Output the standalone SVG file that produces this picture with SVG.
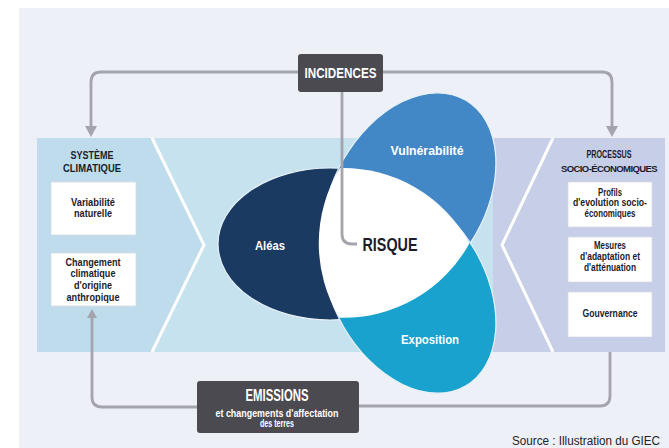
<svg xmlns="http://www.w3.org/2000/svg" width="669" height="448" viewBox="0 0 669 448">
<defs>
<style>
text{font-family:"Liberation Sans","DejaVu Sans",Arial,sans-serif;font-weight:bold;text-anchor:middle}
.dk{fill:#1c1c2a;font-size:10px}
.hd{fill:#1c1c2a;font-size:11px}
.wt{fill:#ffffff}
.ln{fill:none;stroke:#a4a4ac;stroke-width:2.8}
.box{fill:#ffffff;stroke:#d6dbe4;stroke-width:0.8}
.dbox{fill:#4a4a50}
.ar{fill:#a4a4ac}
</style>
</defs>
<rect x="0" y="0" width="669" height="448" fill="#ffffff"/>
<rect x="19" y="8" width="650" height="440" fill="#eef0f7"/>

<g id="band">
<rect x="37" y="138" width="460" height="214" fill="#c6e2ef"/>
<rect x="493" y="138" width="172" height="214" fill="#c7cee7"/>
<polygon points="37,138 152,138 204,245 152,352 37,352" fill="#bedcec"/>
<polyline points="152,138 204,245 152,352" fill="none" stroke="#ffffff" stroke-width="3"/>
<polyline points="553,138 502,245 553,352" fill="none" stroke="#ffffff" stroke-width="3"/>
</g>

<g id="connectors">
<path class="ln" d="M91,127 V82 Q91,72 101,72 H298"/>
<path class="ln" d="M383,72 H602 Q612,72 612,82 V127"/>
<polygon class="ar" points="85,126 97,126 91,137"/>
<polygon class="ar" points="606,126 618,126 612,137"/>
<path class="ln" d="M92,318 V397 Q92,407 102,407 H197"/>
<polygon class="ar" points="87,318 97,318 92,309"/>
<path class="ln" d="M610,352 V396 Q610,406 600,406 H359"/>
</g>

<g id="aleas">
<ellipse cx="330" cy="244" rx="112" ry="76" fill="#1b3a62" stroke="#e8f2f8" stroke-width="1.2"/>
</g>
<g id="vulnerabilite">
<ellipse cx="0" cy="0" rx="112" ry="76" transform="translate(409.5,197) rotate(-60)" fill="#4287c6" stroke="#e8f2f8" stroke-width="1.2"/>
</g>
<g id="exposition">
<ellipse cx="0" cy="0" rx="112" ry="76" transform="translate(409.5,289) rotate(60)" fill="#18a2cd" stroke="#e8f2f8" stroke-width="1.2"/>
</g>
<g id="risque">
<path d="M340,168 A144,144 0 0 1 469.5,243.3 A144,144 0 0 1 339.5,317.7 A144,144 0 0 1 340,168 Z" fill="#ffffff"/>
</g>
<path class="ln" d="M342,92 V234 Q342,244 352,244 H357"/>

<text class="wt" x="270" y="249.5" font-size="13" textLength="30" lengthAdjust="spacingAndGlyphs">Aléas</text>
<text class="wt" x="427" y="154.5" font-size="13" textLength="73" lengthAdjust="spacingAndGlyphs">Vulnérabilité</text>
<text class="wt" x="430" y="343.5" font-size="13" textLength="58" lengthAdjust="spacingAndGlyphs">Exposition</text>
<text x="390" y="250.5" font-size="18" fill="#1c1c2a" textLength="55" lengthAdjust="spacingAndGlyphs">RISQUE</text>

<g id="incidences">
<rect class="dbox" x="298" y="54" width="85" height="38" rx="3"/>
<text class="wt" x="340.5" y="78" font-size="15" textLength="72" lengthAdjust="spacingAndGlyphs">INCIDENCES</text>
</g>

<g id="emissions">
<rect class="dbox" x="197" y="381" width="162" height="52" rx="3"/>
<text class="wt" x="277" y="400.5" font-size="16" textLength="63" lengthAdjust="spacingAndGlyphs">EMISSIONS</text>
<text class="wt" x="277" y="416.5" font-size="10" textLength="123" lengthAdjust="spacingAndGlyphs">et changements d'affectation</text>
<text class="wt" x="277" y="427" font-size="10" textLength="34" lengthAdjust="spacingAndGlyphs">des terres</text>
</g>

<g id="systeme">
<text class="hd" x="92" y="159" textLength="43" lengthAdjust="spacingAndGlyphs">SYSTÈME</text>
<text class="hd" x="92" y="172" textLength="58" lengthAdjust="spacingAndGlyphs">CLIMATIQUE</text>
</g>
<g id="variabilite">
<rect class="box" x="51" y="182" width="85" height="53"/>
<text class="dk" x="93" y="205.5" textLength="44" lengthAdjust="spacingAndGlyphs">Variabilité</text>
<text class="dk" x="93" y="217" textLength="38" lengthAdjust="spacingAndGlyphs">naturelle</text>
</g>
<g id="changement">
<rect class="box" x="51" y="253" width="85" height="53"/>
<text class="dk" x="93" y="265.5" textLength="55" lengthAdjust="spacingAndGlyphs">Changement</text>
<text class="dk" x="93" y="277" textLength="45" lengthAdjust="spacingAndGlyphs">climatique</text>
<text class="dk" x="93" y="288.5" textLength="38" lengthAdjust="spacingAndGlyphs">d'origine</text>
<text class="dk" x="93" y="300.5" textLength="53" lengthAdjust="spacingAndGlyphs">anthropique</text>
</g>

<g id="processus">
<text class="dk" x="609" y="158" font-size="10" textLength="45" lengthAdjust="spacingAndGlyphs">PROCESSUS</text>
<text class="dk" x="609" y="172" style="font-size:9.5px;letter-spacing:-0.6px">SOCIO-ÉCONOMIQUES</text>
</g>
<g id="profils">
<rect class="box" x="568" y="182" width="84" height="45"/>
<text class="dk" x="610" y="195.5" textLength="24" lengthAdjust="spacingAndGlyphs">Profils</text>
<text class="dk" x="610" y="206" textLength="74" lengthAdjust="spacingAndGlyphs">d'evolution socio-</text>
<text class="dk" x="610" y="216.5" textLength="51" lengthAdjust="spacingAndGlyphs">économiques</text>
</g>
<g id="mesures">
<rect class="box" x="568" y="237" width="84" height="45"/>
<text class="dk" x="610" y="248.5" textLength="32" lengthAdjust="spacingAndGlyphs">Mesures</text>
<text class="dk" x="610" y="259.5" textLength="60" lengthAdjust="spacingAndGlyphs">d'adaptation et</text>
<text class="dk" x="610" y="270.5" textLength="52" lengthAdjust="spacingAndGlyphs">d'atténuation</text>
</g>
<g id="gouvernance">
<rect class="box" x="568" y="292" width="84" height="45"/>
<text class="dk" x="610" y="316.5" textLength="55" lengthAdjust="spacingAndGlyphs">Gouvernance</text>
</g>

<text x="512" y="445" font-size="12" fill="#222228" style="text-anchor:start;font-weight:normal" textLength="148" lengthAdjust="spacingAndGlyphs">Source : Illustration du GIEC</text>
</svg>
